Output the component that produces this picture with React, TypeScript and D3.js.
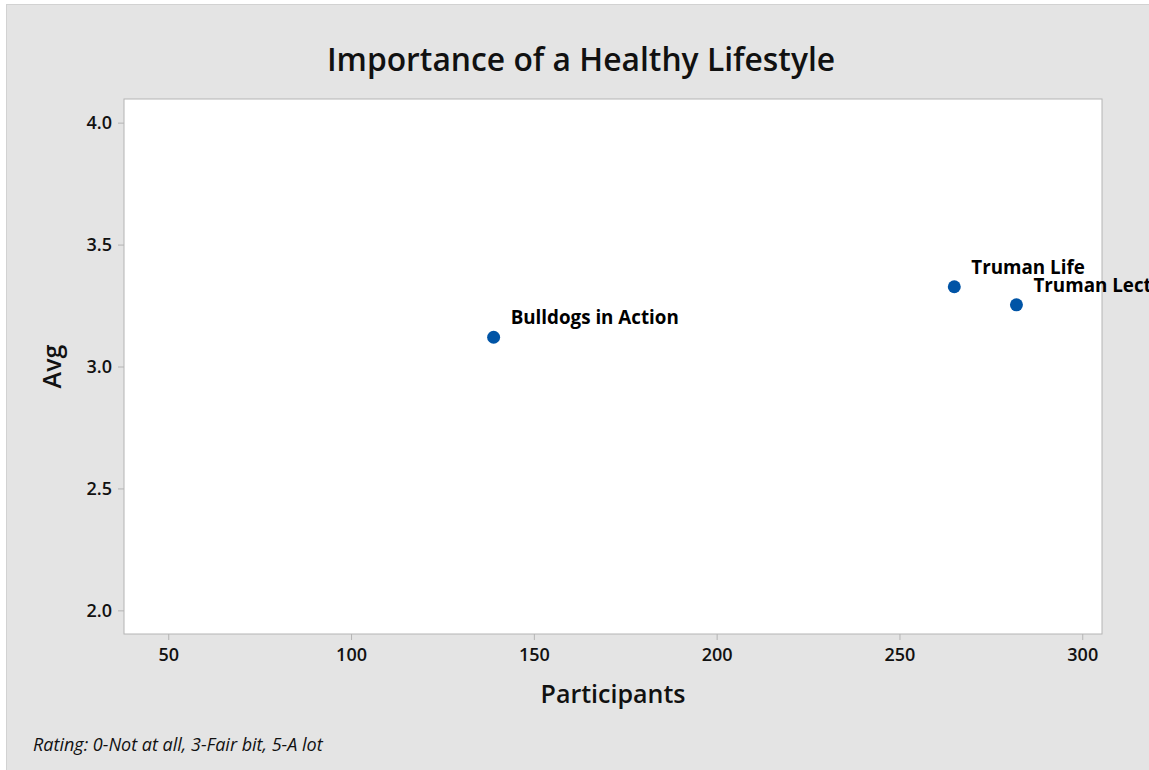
import React, { useEffect, useRef } from 'react';
import * as d3 from 'd3';

const programs = ['Bulldogs in Action', 'Truman Life', 'Truman Lecture'];
const participants = [139, 265, 282];
const avgRating = [3.12, 3.327, 3.253];
const xTicks = [50, 100, 150, 200, 250, 300];
const yTicks = [2.0, 2.5, 3.0, 3.5, 4.0];

const W = 1149, H = 770;
const font = '"Open Sans", "Noto Sans", sans-serif';

export default function App() {
  const ref = useRef<SVGSVGElement>(null);

  useEffect(() => {
    const svg = d3.select(ref.current);
    svg.selectAll('*').remove();

    const plot = { left: 124, top: 99, right: 1102, bottom: 634 };

    const x = d3.scaleLinear().domain([37.9, 305.4]).range([plot.left, plot.right]);
    const y = d3.scaleLinear().domain([1.903, 4.097]).range([plot.bottom, plot.top]);

    // figure background
    svg.append('rect')
      .attr('x', 6.5).attr('y', 4.5)
      .attr('width', W).attr('height', H)
      .attr('fill', '#e4e4e4').attr('stroke', '#d2d2d2');

    svg.append('rect')
      .attr('x', plot.left).attr('y', plot.top)
      .attr('width', plot.right - plot.left).attr('height', plot.bottom - plot.top)
      .attr('fill', '#fff').attr('stroke', '#b4b4b4');

    const xAxis = svg.append('g')
      .attr('transform', `translate(0,${plot.bottom})`)
      .call(d3.axisBottom(x).tickValues(xTicks).tickSize(6).tickPadding(8).tickFormat(d3.format('d')));
    const yAxis = svg.append('g')
      .attr('transform', `translate(${plot.left},0)`)
      .call(d3.axisLeft(y).tickValues(yTicks).tickSize(6).tickPadding(6).tickFormat(d3.format('.1f')));

    [xAxis, yAxis].forEach(g => {
      g.select('.domain').remove();
      g.selectAll('line').attr('stroke', '#b4b4b4');
      g.selectAll('text')
        .attr('fill', '#111')
        .style('font-family', font)
        .style('font-size', '18px')
        .style('font-weight', 600);
    });

    const data = programs.map((p, i) => ({ name: p, x: participants[i], y: avgRating[i] }));

    svg.append('g').selectAll('circle')
      .data(data)
      .enter().append('circle')
      .attr('cx', d => x(d.x))
      .attr('cy', d => y(d.y))
      .attr('r', 6.5)
      .attr('fill', '#0054a6');

    // point labels (the last one runs off the figure, as in the original)
    svg.append('g').selectAll('text')
      .data(data)
      .enter().append('text')
      .attr('x', d => x(d.x) + 17)
      .attr('y', d => y(d.y) - 13)
      .text(d => d.name)
      .attr('fill', '#000')
      .style('font-family', font)
      .style('font-size', '18.8px')
      .style('font-weight', 700);

    svg.append('text')
      .attr('x', 581).attr('y', 71)
      .attr('text-anchor', 'middle')
      .text('Importance of a Healthy Lifestyle')
      .attr('fill', '#111')
      .style('font-family', font)
      .style('font-size', '31.8px')
      .style('font-weight', 600);

    svg.append('text')
      .attr('x', 613).attr('y', 703)
      .attr('text-anchor', 'middle')
      .text('Participants')
      .attr('fill', '#111')
      .style('font-family', font)
      .style('font-size', '25px')
      .style('font-weight', 600);

    svg.append('text')
      .attr('transform', `translate(61,${(plot.top + plot.bottom) / 2}) rotate(-90)`)
      .attr('text-anchor', 'middle')
      .text('Avg')
      .attr('fill', '#111')
      .style('font-family', font)
      .style('font-size', '25px')
      .style('font-weight', 600);

    svg.append('text')
      .attr('x', 33).attr('y', 751)
      .text('Rating: 0-Not at all, 3-Fair bit, 5-A lot')
      .attr('fill', '#111')
      .style('font-family', font)
      .style('font-size', '18px')
      .style('font-style', 'italic');
  }, []);

  return (
    <svg ref={ref} width={W} height={H}
      style={{ position: 'absolute', left: 0, top: 0, background: '#fff' }} />
  );
}
